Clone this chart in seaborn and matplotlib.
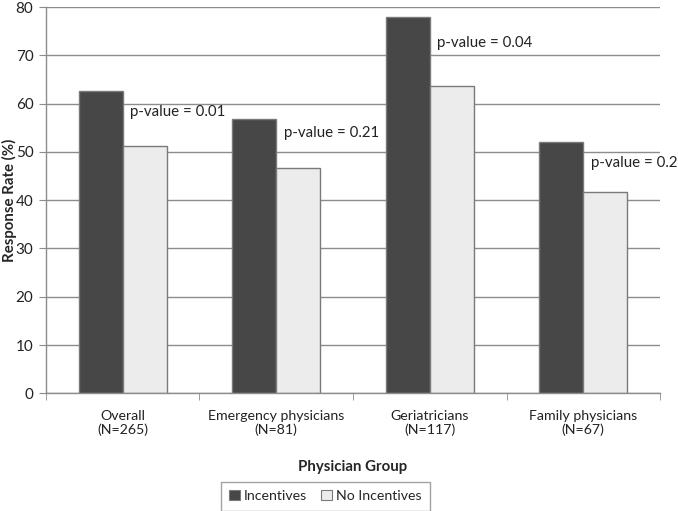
import matplotlib
matplotlib.use("Agg")
import matplotlib.pyplot as plt
import seaborn as sns
import pandas as pd
from matplotlib.patches import Patch

groups = ["Overall\n(N=265)", "Emergency physicians\n(N=81)", "Geriatricians\n(N=117)", "Family physicians\n(N=67)"]
incentives = [62.7, 56.8, 77.9, 52.1]
no_incentives = [51.3, 46.6, 63.6, 41.7]
p_labels = ["p-value = 0.01", "p-value = 0.21", "p-value = 0.04", "p-value = 0.2"]
p_y = [58.3, 54.0, 72.6, 47.7]
series = ["Incentives", "No Incentives"]

df = pd.DataFrame({
    "group": groups * 2,
    "rate": incentives + no_incentives,
    "series": [series[0]] * 4 + [series[1]] * 4,
})

sns.set_style("white")
plt.rcParams["font.family"] = ["Lato", "DejaVu Sans"]

fig = plt.figure(figsize=(6.78, 5.11), dpi=100)
ax = fig.add_axes([0.0678, 0.2303, 0.9057, 0.756])

palette = {"Incentives": "#474747", "No Incentives": "#ececec"}
sns.barplot(data=df, x="group", y="rate", hue="series", palette=palette,
            width=0.574, gap=0, edgecolor="#7a7a7a", linewidth=1.0,
            ax=ax, legend=False, saturation=1)

ax.set_ylim(0, 80)
ax.set_xlim(-0.5, 3.5)
ax.set_yticks(range(0, 81, 10))
ax.yaxis.grid(True, color="#8c8c8c", linewidth=1.0)
ax.set_axisbelow(True)
for s in ["top", "right"]:
    ax.spines[s].set_visible(False)
for s in ["left", "bottom"]:
    ax.spines[s].set_color("#8c8c8c")
    ax.spines[s].set_linewidth(1.0)

ax.tick_params(axis="y", which="major", left=True, length=5, color="#8c8c8c",
               labelsize=11, labelcolor="#222222", pad=4)
ax.tick_params(axis="x", which="major", length=0, labelsize=10.2, labelcolor="#222222", pad=12)
for t in ax.get_xticklabels():
    t.set_linespacing(1.15)
ax.set_xticks([-0.5, 0.5, 1.5, 2.5, 3.5], minor=True)
ax.tick_params(axis="x", which="minor", bottom=True, length=5, color="#8c8c8c")

ax.set_xlabel("Physician Group", fontsize=10.8, fontweight="bold", labelpad=17)
ax.set_ylabel("Response Rate (%)", fontsize=10.8, fontweight="bold")
ax.yaxis.set_label_coords(-0.047, 0.5)

for i, (lab, y) in enumerate(zip(p_labels, p_y)):
    ax.text(i + 0.05, y, lab, fontsize=10.8, va="center", ha="left", color="#222222")

handles = [Patch(facecolor=palette[s], edgecolor="#7a7a7a", linewidth=0.8) for s in series]
fig.legend(handles, series, loc="center", bbox_to_anchor=(0.48, 0.029), ncol=2,
           frameon=True, fancybox=False, edgecolor="#8c8c8c", fontsize=10.2,
           handlelength=0.75, handleheight=0.75, handletextpad=0.3, columnspacing=1.0,
           borderpad=0.6, borderaxespad=0)

fig.savefig("out.png", dpi=100)
